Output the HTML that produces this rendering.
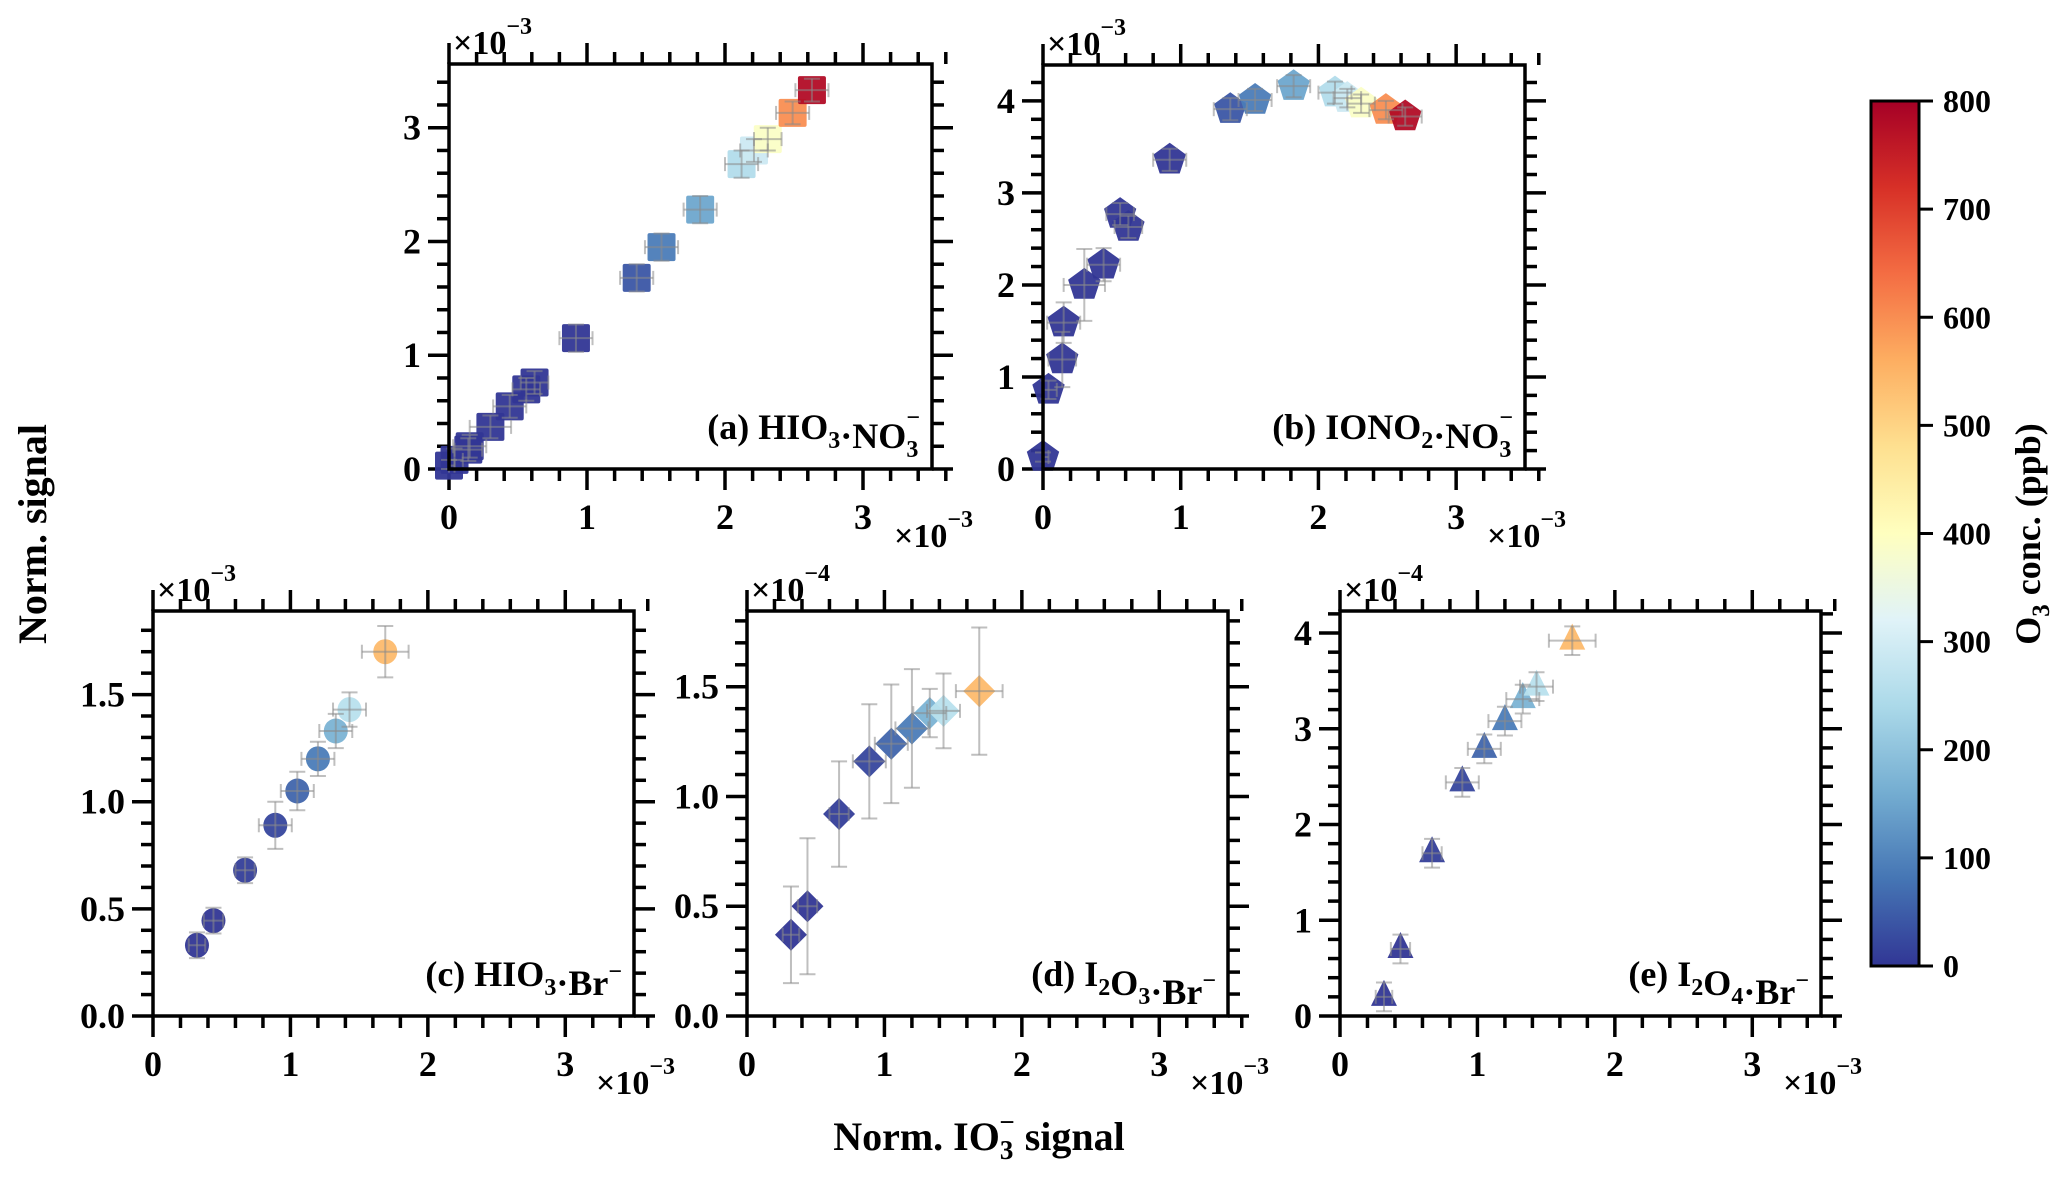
<!DOCTYPE html>
<html><head><meta charset="utf-8"><title>Norm. signal vs Norm. IO3- signal</title>
<style>
html,body{margin:0;padding:0;background:#fff;}
svg text{font-family:"Liberation Serif",serif;font-weight:bold;fill:#000;}
</style></head>
<body>
<svg id="fig" xmlns="http://www.w3.org/2000/svg" width="2067" height="1187" viewBox="0 0 2067 1187">
<defs>
<linearGradient id="cmap" x1="0" y1="1" x2="0" y2="0">
<stop offset="0" stop-color="#313695"/><stop offset="0.1" stop-color="#4575b4"/><stop offset="0.2" stop-color="#74add1"/><stop offset="0.3" stop-color="#abd9e9"/><stop offset="0.4" stop-color="#e0f3f8"/><stop offset="0.5" stop-color="#ffffbf"/><stop offset="0.6" stop-color="#fee090"/><stop offset="0.7" stop-color="#fdae61"/><stop offset="0.8" stop-color="#f46d43"/><stop offset="0.9" stop-color="#d73027"/><stop offset="1" stop-color="#a50026"/>
</linearGradient>
</defs>
<g id="panels"></g>
<g id="colorbar">
<rect x="1871" y="101" width="48" height="865" fill="url(#cmap)" stroke="#000" stroke-width="3"/>
</g>
<text transform="translate(46,534) rotate(-90)" text-anchor="middle" font-size="40">Norm. signal</text>
<text x="979" y="1150" text-anchor="middle" font-size="40">Norm. IO<tspan font-size="27" dy="9">3</tspan><tspan font-size="27" dx="-14" dy="-28">−</tspan><tspan dy="19"> signal</tspan></text>
<text transform="translate(2040,534) rotate(-90)" text-anchor="middle" font-size="36">O<tspan font-size="25" dy="9">3</tspan><tspan dy="-9"> conc. (ppb)</tspan></text>
</svg>
<script>
// ---- data: panels (a),(b) share x ----
const xAB = [0.0, 0.04, 0.14, 0.15, 0.30, 0.44, 0.56, 0.62, 0.92, 1.36, 1.54, 1.82, 2.12, 2.21, 2.31, 2.49, 2.63];
const yA  = [0.03, 0.08, 0.17, 0.20, 0.37, 0.55, 0.70, 0.76, 1.15, 1.68, 1.95, 2.28, 2.68, 2.80, 2.90, 3.13, 3.33];
const yB  = [0.13, 0.86, 1.19, 1.59, 2.00, 2.22, 2.77, 2.63, 3.36, 3.91, 4.01, 4.16, 4.09, 4.03, 3.97, 3.90, 3.83];
const o3AB = [0, 0, 0, 0, 0, 0, 0, 0, 0, 40, 90, 150, 250, 290, 390, 600, 780];
const xerrAB = [0.04, 0.06, 0.10, 0.12, 0.15, 0.12, 0.10, 0.10, 0.12, 0.12, 0.12, 0.12, 0.12, 0.10, 0.10, 0.12, 0.12];
const yerrA = [0.05, 0.10, 0.10, 0.10, 0.10, 0.10, 0.10, 0.10, 0.12, 0.12, 0.12, 0.12, 0.12, 0.10, 0.10, 0.10, 0.10];
const yerrB = [0.05, 0.10, 0.30, 0.22, 0.39, 0.18, 0.12, 0.12, 0.12, 0.12, 0.12, 0.12, 0.12, 0.10, 0.10, 0.10, 0.10];
// ---- data: panels (c),(d),(e) share x ----
const xCDE = [0.32, 0.44, 0.67, 0.89, 1.05, 1.20, 1.33, 1.43, 1.69];
const yC = [0.33, 0.445, 0.68, 0.89, 1.05, 1.20, 1.33, 1.43, 1.70];
const yD = [0.37, 0.50, 0.92, 1.16, 1.24, 1.31, 1.38, 1.39, 1.48];
const yE = [0.20, 0.70, 1.70, 2.44, 2.79, 3.08, 3.31, 3.44, 3.92];
const o3CDE = [0, 0, 10, 20, 60, 90, 170, 260, 540];
const xerrCDE = [0.06, 0.07, 0.07, 0.12, 0.12, 0.12, 0.12, 0.12, 0.17];
const yerrC = [0.06, 0.06, 0.06, 0.11, 0.09, 0.08, 0.08, 0.08, 0.12];
const yerrD = [0.22, 0.31, 0.24, 0.26, 0.27, 0.27, 0.11, 0.17, 0.29];
const yerrE = [0.15, 0.15, 0.15, 0.15, 0.15, 0.15, 0.15, 0.15, 0.15];
const cbTicks = [0, 100, 200, 300, 400, 500, 600, 700, 800];

const NS = "http://www.w3.org/2000/svg";
const stops = [[49,54,149],[69,117,180],[116,173,209],[171,217,233],[224,243,248],[255,255,191],[254,224,144],[253,174,97],[244,109,67],[215,48,39],[165,0,38]];
function cmap(v){
  let t = Math.max(0, Math.min(1, v/800)) * 10;
  let i = Math.min(9, Math.floor(t)), f = t - i;
  const a = stops[i], b = stops[i+1];
  return "rgb(" + a.map((c,k)=>Math.round(c + (b[k]-c)*f)).join(",") + ")";
}
function el(tag, attrs, parent){
  const e = document.createElementNS(NS, tag);
  for (const k in attrs) e.setAttribute(k, attrs[k]);
  parent.appendChild(e);
  return e;
}
const root = document.getElementById("panels");

function drawPanel(p){
  const g = el("g", {}, root);
  
  
  const sx = v => p.L + (p.R - p.L) * v / p.xmax;
  const sy = v => p.B - (p.B - p.T) * v / p.ymax;
  const lw = 3.5;
  const ticks = el("g", {stroke:"#000","stroke-width":lw}, g);
  
  
  for (let i = 0; i <= Math.round(p.xmax/0.2 + 0.001); i++){
    const v = i*0.2, x = sx(v), major = Math.abs(v - Math.round(v)) < 1e-6;
    const len = major ? 21 : 12;
    el("line", {x1:x, y1:p.B, x2:x, y2:p.B+len}, ticks);
    el("line", {x1:x, y1:p.T, x2:x, y2:p.T-len}, ticks);
  }
  const nmin = Math.floor(p.ymax/p.yminor + 1e-6);
  for (let i = 0; i <= nmin; i++){
    const v = i*p.yminor, y = sy(v);
    const r = v/p.ymajor, major = Math.abs(r - Math.round(r)) < 1e-6;
    const len = major ? 21 : 12;
    el("line", {x1:p.L, y1:y, x2:p.L-len, y2:y}, ticks);
    el("line", {x1:p.R, y1:y, x2:p.R+len, y2:y}, ticks);
  }
  for (let v = 0; v <= 3; v++){
    const t = el("text", {x:sx(v), y:p.B+60, "text-anchor":"middle","font-size":36}, g);
    
    
    t.textContent = String(v);
  }
  for (let i = 0; i*p.ymajor <= p.ymax + 1e-6; i++){
    const v = i*p.ymajor;
    const t = el("text", {x:p.L-28, y:sy(v)+12, "text-anchor":"end","font-size":36}, g);
    
    
    t.textContent = v.toFixed(p.ydec);
  }
  const e1 = el("text", {x:p.L+4, y:p.T-10, "font-size":34}, g);
  
  
  e1.innerHTML = '×10<tspan font-size="24" dy="-20">−' + p.yexp + '</tspan>';
  const e2 = el("text", {x:p.R-38, y:p.B+78, "font-size":34}, g);
  
  
  e2.innerHTML = '×10<tspan font-size="24" dy="-20">−3</tspan>';
  const mk = el("g", {}, g);
  
  
  for (let i = 0; i < p.x.length; i++){
    const cx = sx(p.x[i]), cy = sy(p.y[i]), col = cmap(p.c[i]);
    let m;
    if (p.marker === "square"){
      m = el("rect", {x:cx-14, y:cy-14, width:28, height:28, rx:2}, mk);
    } else if (p.marker === "pentagon"){
      const pts = [];
      for (let k = 0; k < 5; k++){ const a = -Math.PI/2 + k*2*Math.PI/5; pts.push((cx+17*Math.cos(a)).toFixed(1)+","+(cy+17*Math.sin(a)).toFixed(1)); }
      m = el("polygon", {points:pts.join(" ")}, mk);
    } else if (p.marker === "circle"){
      m = el("ellipse", {cx:cx, cy:cy, rx:12, ry:12.5}, mk);
    } else if (p.marker === "diamond"){
      m = el("polygon", {points:`${cx},${cy-16} ${cx+16},${cy} ${cx},${cy+16} ${cx-16},${cy}`}, mk);
    } else {
      m = el("polygon", {points:`${cx},${cy-17} ${cx+13},${cy+9} ${cx-13},${cy+9}`}, mk);
    }
    m.setAttribute("fill", col);
    m.setAttribute("fill-opacity", "0.95");
    
    
  }
  const eb = el("g", {stroke:"#8a8a8a","stroke-opacity":"0.55","stroke-width":2, fill:"none"}, g);
  
  
  for (let i = 0; i < p.x.length; i++){
    const cx = sx(p.x[i]), cy = sy(p.y[i]);
    const x0 = sx(Math.max(0, p.x[i]-p.xe[i])), x1 = sx(p.x[i]+p.xe[i]);
    const y0 = sy(Math.max(0, p.y[i]-p.ye[i])), y1 = sy(p.y[i]+p.ye[i]);
    el("line", {x1:x0, y1:cy, x2:x1, y2:cy}, eb);
    el("line", {x1:cx, y1:y0, x2:cx, y2:y1}, eb);
    el("line", {x1:cx-8, y1:y0, x2:cx+8, y2:y0}, eb);
    el("line", {x1:cx-8, y1:y1, x2:cx+8, y2:y1}, eb);
    el("line", {x1:x0, y1:cy-7, x2:x0, y2:cy+7}, eb);
    el("line", {x1:x1, y1:cy-7, x2:x1, y2:cy+7}, eb);
  }
  const fr = el("rect", {x:p.L, y:p.T, width:p.R-p.L, height:p.B-p.T, fill:"none", stroke:"#000","stroke-width":lw}, g);
  
  
  const lb = el("text", {x:p.R-12, y:p.B-30, "text-anchor":"end","font-size":36}, g);
  
  
  lb.innerHTML = p.label;
}

const sub = (s) => '<tspan font-size="24" dy="9">' + s + '</tspan><tspan dy="-9"></tspan>';
const subsup = (s) => '<tspan font-size="24" dy="9">' + s + '</tspan><tspan font-size="24" dx="-12" dy="-32">−</tspan><tspan dy="23"></tspan>';
const sup = '<tspan font-size="24" dy="-16">−</tspan>';

drawPanel({id:"a", L:449, R:932, T:64, B:469, xmax:3.5, ymax:3.56, ymajor:1, yminor:0.2, ydec:0, yexp:3,
  x:xAB, y:yA, c:o3AB, xe:xerrAB, ye:yerrA, marker:"square",
  label:'(a) HIO' + sub('3') + '·NO' + subsup('3')});
drawPanel({id:"b", L:1043, R:1525, T:65, B:469, xmax:3.5, ymax:4.39, ymajor:1, yminor:0.2, ydec:0, yexp:3,
  x:xAB, y:yB, c:o3AB, xe:xerrAB, ye:yerrB, marker:"pentagon",
  label:'(b) IONO' + sub('2') + '·NO' + subsup('3')});
drawPanel({id:"c", L:153, R:634, T:611, B:1016, xmax:3.5, ymax:1.89, ymajor:0.5, yminor:0.1, ydec:1, yexp:3,
  x:xCDE, y:yC, c:o3CDE, xe:xerrCDE, ye:yerrC, marker:"circle",
  label:'(c) HIO' + sub('3') + '·Br' + sup});
drawPanel({id:"d", L:747, R:1228, T:611, B:1016, xmax:3.5, ymax:1.845, ymajor:0.5, yminor:0.1, ydec:1, yexp:4,
  x:xCDE, y:yD, c:o3CDE, xe:xerrCDE, ye:yerrD, marker:"diamond",
  label:'(d) I' + sub('2') + 'O' + sub('3') + '·Br' + sup});
drawPanel({id:"e", L:1340, R:1821, T:611, B:1016, xmax:3.5, ymax:4.23, ymajor:1, yminor:0.2, ydec:0, yexp:4,
  x:xCDE, y:yE, c:o3CDE, xe:xerrCDE, ye:yerrE, marker:"triangle",
  label:'(e) I' + sub('2') + 'O' + sub('4') + '·Br' + sup});

const cb = document.getElementById("colorbar");
const cbTop = 101, cbBot = 966;
for (const v of cbTicks){
  const y = cbBot - (cbBot - cbTop) * v / 800;
  const t = el("line", {x1:1919, y1:y, x2:1933, y2:y, stroke:"#000","stroke-width":3}, cb);
  
  
  const l = el("text", {x:1943, y:y+11, "font-size":32}, cb);
  
  
  l.textContent = String(v);
}
</script>
</body></html>
